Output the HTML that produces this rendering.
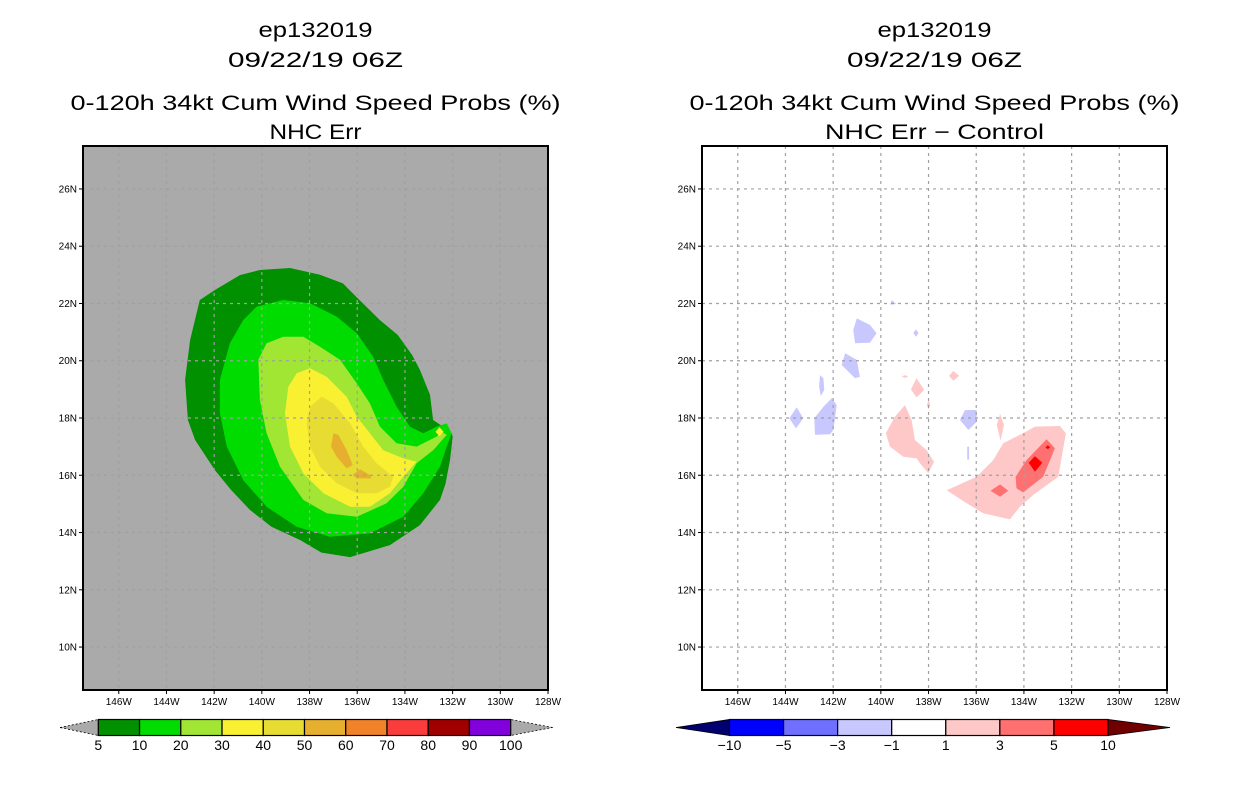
<!DOCTYPE html>
<html><head><meta charset="utf-8">
<style>
html,body{margin:0;padding:0;background:#fff;}
svg{display:block;}
text{font-family:"Liberation Sans",sans-serif;fill:#000;}
</style></head>
<body>
<svg id="chart" width="1236" height="800" viewBox="0 0 1236 800" xmlns="http://www.w3.org/2000/svg"></svg>
<script>
// ---- data (lon, lat) ----
const lonTicks = [-146,-144,-142,-140,-138,-136,-134,-132,-130,-128];
const lonTickLabels = ["146W","144W","142W","140W","138W","136W","134W","132W","130W","128W"];
const latTicks = [10,12,14,16,18,20,22,24,26];
const latTickLabels = ["10N","12N","14N","16N","18N","20N","22N","24N","26N"];
const probLevels = [5,10,20,30,40,50,60,70,80,90,100];
const probColors = ["#009000","#00dc00","#a0e632","#faf032","#e6dc32","#e6af2d","#f08228","#fa3c3c","#a00000","#8200dc"];
const diffLevels = [-10,-5,-3,-1,1,3,5,10];
const diffColors = ["#0000ff","#7070ff","#c8c8ff","#ffffff","#ffc8c8","#ff7070","#ff0000"];

const prob5 = [[-140.08,23.17],[-138.82,23.24],[-137.56,23.0],[-136.6,22.7],[-136.0,22.2],[-135.05,21.42],[-134.3,20.9],[-133.7,20.2],[-133.37,19.68],[-132.95,18.81],[-132.82,17.93],[-132.32,17.65],[-131.99,17.41],[-132.11,16.53],[-132.3,15.7],[-132.53,15.14],[-133.37,14.26],[-134.63,13.56],[-136.3,13.14],[-137.5,13.3],[-138.4,13.74],[-139.6,14.2],[-140.5,14.79],[-141.3,15.5],[-141.97,16.18],[-142.8,17.23],[-143.1,17.93],[-143.22,19.33],[-143.01,20.72],[-142.6,22.12],[-141.97,22.47],[-140.92,22.99]];
const prob10 = [[-140.22,21.89],[-139.1,22.12],[-137.98,22.01],[-136.86,21.54],[-136.02,20.96],[-135.33,20.14],[-134.91,19.33],[-134.35,18.39],[-133.79,17.7],[-133.23,17.47],[-132.67,17.7],[-132.25,17.81],[-132.04,17.47],[-132.25,17.0],[-132.53,16.3],[-133.23,15.37],[-134.07,14.55],[-135.47,13.97],[-137.14,13.85],[-138.54,14.2],[-139.8,14.9],[-140.78,15.83],[-141.47,17.0],[-141.76,18.16],[-141.76,19.33],[-141.34,20.61],[-140.78,21.42]];
const prob20 = [[-139.8,20.61],[-139.1,20.84],[-138.26,20.84],[-137.56,20.49],[-136.72,20.03],[-136.02,19.21],[-135.47,18.51],[-135.05,17.7],[-134.35,17.12],[-133.51,17.0],[-132.67,17.35],[-132.46,17.52],[-132.25,17.41],[-132.81,16.88],[-133.51,16.42],[-134.07,15.6],[-134.77,15.02],[-136.02,14.55],[-137.28,14.67],[-138.26,15.14],[-139.24,16.3],[-139.8,17.47],[-140.08,18.63],[-140.15,20.03]];
const prob30 = [[-138.54,19.56],[-137.98,19.74],[-137.28,19.44],[-136.44,18.74],[-136.02,18.05],[-135.47,17.47],[-134.91,16.88],[-134.07,16.59],[-133.51,16.47],[-134.07,15.95],[-134.63,15.37],[-135.47,14.9],[-136.3,14.9],[-137.42,15.37],[-138.26,16.07],[-138.82,17.0],[-139.03,18.16],[-138.89,19.09]];
const prob30b = [[-132.55,17.68],[-132.38,17.52],[-132.55,17.36],[-132.72,17.52]];
const prob40 = [[-137.98,18.39],[-137.49,18.74],[-137.0,18.51],[-136.3,17.81],[-135.75,17.0],[-135.19,16.42],[-134.49,15.95],[-134.63,15.6],[-135.19,15.37],[-136.02,15.37],[-136.86,15.72],[-137.56,16.3],[-137.98,17.0],[-138.12,17.81]];
const prob50a = [[-137.0,17.47],[-136.79,17.41],[-136.44,16.88],[-136.19,16.36],[-136.44,16.24],[-136.86,16.65],[-137.1,17.0]];
const prob50b = [[-136.19,16.01],[-135.89,16.21],[-135.47,16.01],[-135.4,15.89],[-136.02,15.89]];

const diffNeg1 = [
 [[-141.01,21.48],[-140.46,21.25],[-140.18,20.96],[-140.46,20.63],[-141.08,20.61],[-141.16,21.07]],
 [[-141.5,20.26],[-141.01,20.03],[-140.88,19.44],[-141.08,19.39],[-141.64,19.85]],
 [[-142.55,19.5],[-142.41,19.39],[-142.37,18.98],[-142.52,18.77],[-142.59,19.09]],
 [[-142.06,18.69],[-141.85,18.45],[-141.99,17.58],[-142.13,17.43],[-142.76,17.41],[-142.79,17.99],[-142.41,18.39]],
 [[-143.53,18.37],[-143.25,17.99],[-143.56,17.64],[-143.84,17.99]],
 [[-136.47,18.28],[-135.98,18.28],[-135.98,17.87],[-136.33,17.58],[-136.68,17.93]],
 [[-139.55,22.12],[-139.35,21.98],[-139.6,21.96]],
 [[-138.53,21.1],[-138.42,20.97],[-138.53,20.84],[-138.64,20.97]],
 [[-136.38,17.0],[-136.3,17.0],[-136.3,16.55],[-136.38,16.55]]
];
const diffPos1 = [
 [[-138.99,18.45],[-138.71,17.93],[-138.57,17.23],[-138.08,16.88],[-137.77,16.47],[-138.01,16.07],[-138.36,16.42],[-138.5,16.59],[-139.06,16.65],[-139.62,17.0],[-139.79,17.47],[-139.41,18.05]],
 [[-138.5,19.39],[-138.18,18.98],[-138.5,18.72],[-138.74,19.0]],
 [[-136.96,19.64],[-136.71,19.47],[-136.96,19.3],[-137.14,19.47]],
 [[-135.0,18.14],[-134.84,17.76],[-134.98,17.21],[-135.14,17.76]],
 [[-137.24,15.48],[-135.98,15.95],[-135.29,16.53],[-134.87,17.12],[-134.03,17.47],[-133.54,17.7],[-132.49,17.72],[-132.24,17.47],[-132.56,15.95],[-133.61,15.31],[-134.17,14.9],[-134.59,14.46],[-135.71,14.67],[-136.4,15.02]],
 [[-138.99,19.5],[-138.85,19.45],[-138.99,19.4],[-139.13,19.45]],
 [[-138.0,18.62],[-137.93,18.45],[-138.0,18.3],[-138.07,18.45]]
];
const diffPos3 = [
 [[-133.05,17.26],[-132.7,16.94],[-133.19,15.95],[-134.03,15.4],[-134.31,15.54],[-134.35,15.95],[-133.89,16.53]],
 [[-135.0,15.68],[-134.66,15.46],[-135.0,15.25],[-135.4,15.46]]
];
const diffPos5 = [
 [[-133.54,16.67],[-133.23,16.44],[-133.54,16.12],[-133.8,16.44]],
 [[-133.0,17.05],[-132.9,16.98],[-133.0,16.91],[-133.1,16.98]]
];

// ---- layout ----
const NS = "http://www.w3.org/2000/svg";
const svg = document.getElementById('chart');
const LON0=-147.5, LON1=-128, LAT0=8.5, LAT1=27.5;
const PW=465, PH=544, PTOP=146;
function mk(tag, attrs, parent){const e=document.createElementNS(NS,tag);for(const k in attrs)e.setAttribute(k,attrs[k]);(parent||svg).appendChild(e);return e;}
function xs(left){return lon=>left+(lon-LON0)/(LON1-LON0)*PW;}
function ys(lat){return PTOP+(LAT1-lat)/(LAT1-LAT0)*PH;}
function polyStr(pts,x){return pts.map(p=>x(p[0]).toFixed(1)+","+ys(p[1]).toFixed(1)).join(" ");}

function panel(left, bg, layers, titles, widths, id){
  const g=mk('g',{});
  
  
  const cx=left+PW/2;
  const ty=[30,60,103,132];
  titles.forEach((t,i)=>{
    const e=mk('text',{x:cx,y:ty[i]+7,'text-anchor':'middle','font-size':21,textLength:widths[i],lengthAdjust:'spacingAndGlyphs'},g);
    e.textContent=t;
    
    
  });
  const bgr=mk('rect',{x:left,y:PTOP,width:PW,height:PH,fill:bg},g);
  
  
  const x=xs(left);
  layers.forEach(L=>{
    L.polys.forEach(p=>{
      const e=mk('polygon',{points:polyStr(p,x),fill:L.color},g);
      
      
    });
  });
  lonTicks.forEach((lon,i)=>{
    if(lon<LON1){
      const l=mk('line',{x1:x(lon),x2:x(lon),y1:PTOP,y2:PTOP+PH,stroke:'#a0a0a0','stroke-width':1.2,'stroke-dasharray':'3,4'},g);
      
      
    }
    mk('line',{x1:x(lon),x2:x(lon),y1:PTOP+PH,y2:PTOP+PH+4,stroke:'#000','stroke-width':1},g);
    const t=mk('text',{x:x(lon),y:PTOP+PH+15,'text-anchor':'middle','font-size':10},g);
    t.textContent=lonTickLabels[i];
    
    
  });
  latTicks.forEach((lat,i)=>{
    const l=mk('line',{x1:left,x2:left+PW,y1:ys(lat),y2:ys(lat),stroke:'#a0a0a0','stroke-width':1.2,'stroke-dasharray':'3,4'},g);
    
    
    mk('line',{x1:left-4,x2:left,y1:ys(lat),y2:ys(lat),stroke:'#000','stroke-width':1},g);
    const t=mk('text',{x:left-6,y:ys(lat)+3.5,'text-anchor':'end','font-size':10},g);
    t.textContent=latTickLabels[i];
    
    
  });
  const fr=mk('rect',{x:left,y:PTOP,width:PW,height:PH,fill:'none',stroke:'#000','stroke-width':2},g);
  
  
}

function colorbar(x0,x1,tipL,tipR,colors,lowC,highC,labels,id){
  const g=mk('g',{});
  
  
  const y0=719.5,y1=735.5,ym=(y0+y1)/2;
  const w=(x1-x0)/colors.length;
  const lt=mk('polygon',{points:`${tipL},${ym} ${x0},${y0} ${x0},${y1}`,fill:lowC,stroke:'#000','stroke-width':0.8,'stroke-dasharray':lowC==='#aaaaaa'?'2,2':'none'},g);
  
  
  const rt=mk('polygon',{points:`${tipR},${ym} ${x1},${y0} ${x1},${y1}`,fill:highC,stroke:'#000','stroke-width':0.8,'stroke-dasharray':highC==='#aaaaaa'?'2,2':'none'},g);
  
  
  colors.forEach((c,i)=>{
    const r=mk('rect',{x:x0+i*w,y:y0,width:w,height:y1-y0,fill:c,stroke:'#000','stroke-width':1.2},g);
    
    
  });
  labels.forEach((v,i)=>{
    const t=mk('text',{x:x0+i*w,y:750,'text-anchor':'middle','font-size':14},g);
    t.textContent=v<0?('\u2212'+Math.abs(v)):String(v);
    
    
  });
}

const probLayers=[
 {name:'5pct',color:probColors[0],polys:[prob5]},
 {name:'10pct',color:probColors[1],polys:[prob10]},
 {name:'20pct',color:probColors[2],polys:[prob20]},
 {name:'30pct',color:probColors[3],polys:[prob30,prob30b]},
 {name:'40pct',color:probColors[4],polys:[prob40]},
 {name:'50pct',color:probColors[5],polys:[prob50a,prob50b]}
];
const diffLayers=[
 {name:'minus1-to-minus3',color:diffColors[2],polys:diffNeg1},
 {name:'1-to-3',color:diffColors[4],polys:diffPos1},
 {name:'3-to-5',color:diffColors[5],polys:diffPos3},
 {name:'5-to-10',color:diffColors[6],polys:diffPos5}
];
panel(83,'#aaaaaa',probLayers,["ep132019","09/22/19 06Z","0-120h 34kt Cum Wind Speed Probs (%)","NHC Err"],[114,175,490,92],'left');
panel(702,'#ffffff',diffLayers,["ep132019","09/22/19 06Z","0-120h 34kt Cum Wind Speed Probs (%)","NHC Err \u2212 Control"],[114,175,490,219],'right');
colorbar(98.3,510.7,60,552.7,probColors,'#aaaaaa','#aaaaaa',probLevels,'left');
colorbar(729.5,1108,676,1170,diffColors,'#000070','#700000',diffLevels,'right');
</script>
</body></html>
